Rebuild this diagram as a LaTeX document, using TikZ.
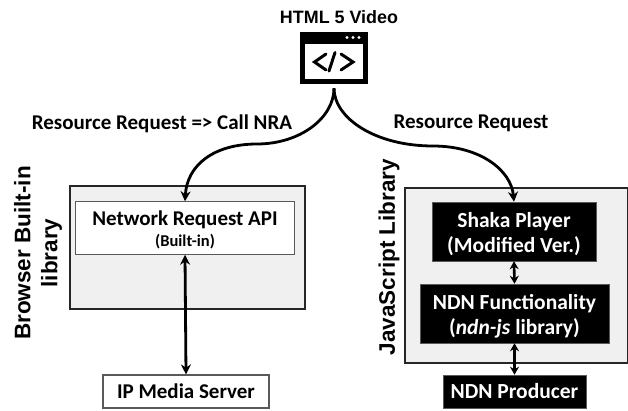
\documentclass[tikz,border=0pt]{standalone}
\usepackage{fontspec}
\setmainfont{Carlito}
\newfontfamily\arialf{Liberation Sans}
\usetikzlibrary{arrows.meta}
\newcommand{\tstrut}{\rule{0pt}{20.5pt}}
\tikzset{
  x=1pt,y=-1pt,
  outerbox/.style={draw=black!85,line width=2.4pt,fill=black!6,anchor=north west,inner sep=0pt},
  whitebox/.style={draw=black!65,line width=1pt,fill=white,inner sep=0pt},
  blackbox/.style={fill=black,draw=black!65,line width=.5pt,text=white,inner sep=0pt,align=center,font=\bfseries\fontsize{21.5}{25}\selectfont},
  lab/.style={font=\bfseries\fontsize{21}{24}\selectfont,inner sep=0pt},
  sidelab/.style={font=\arialf\bfseries\fontsize{22.5}{27}\selectfont,rotate=90,align=center,inner sep=0pt},
  conn/.style={line width=2.8pt,black,-{Stealth[length=10pt,width=10pt]},shorten <=4pt},
  biconn/.style={line width=2.8pt,black,{Stealth[length=10pt,width=10pt]}-{Stealth[length=10pt,width=10pt]}},
  shortbi/.style={line width=2.6pt,black,{Stealth[length=8pt,width=9pt]}-{Stealth[length=8pt,width=9pt]}},
}
\begin{document}
\begin{tikzpicture}
\useasboundingbox (0,0) rectangle (628,411);
% outer boxes
\node[outerbox,minimum width=235pt,minimum height=123pt] (leftbox) at (69,185) {};
\node[outerbox,minimum width=223pt,minimum height=175pt] (rightbox) at (403.5,187) {};
% inner nodes
\node[whitebox,minimum width=218.5pt,minimum height=52.5pt,align=center] (nra) at (185,228) {};
\node[font=\bfseries\fontsize{21}{24}\selectfont,inner sep=0pt] (nratext) at (185,219.5) {Network Request API};
\node[font=\bfseries\fontsize{16.5}{18}\selectfont,inner sep=0pt] (nrasub) at (185,241.5) {(Built-in)};
\node[whitebox,line width=1.2pt,minimum width=166pt,minimum height=33pt,font=\bfseries\fontsize{21}{24}\selectfont] (ip) at (186,391.5) {IP Media Server};
\node[blackbox,minimum width=164pt,minimum height=59pt] (shaka) at (514,231.5) {\tstrut Shaka Player\\(Modified Ver.)};
\node[blackbox,minimum width=189pt,minimum height=59pt] (func) at (514.5,313.5) {\tstrut NDN Functionality\\(\textit{ndn-js} library)};
\node[blackbox,minimum width=143pt,minimum height=33pt] (prod) at (514.5,391.5) {NDN Producer};
% icon
\node[fill=black,minimum width=68pt,minimum height=52pt,inner sep=0pt] (icon) at (334,58) {};
\node[fill=white,minimum width=58pt,minimum height=35pt,inner sep=0pt] (iconwin) at (334,61.5) {};
\foreach \dx in {347,353,359}{\fill[white] (\dx,37.5) circle (1.6pt);}
\draw[line width=3pt,line cap=round,line join=miter] (326,54) -- (314.5,62) -- (326,70);
\draw[line width=3pt,line cap=round,line join=miter] (341,54) -- (353,62) -- (341,70);
\draw[line width=3pt,line cap=round] (335,52.5) -- (329,71);
% labels
\node[font=\arialf\bfseries\fontsize{17.9}{20}\selectfont,inner sep=0pt] (title) at (339,17) {HTML 5 Video};
\node[lab] (l1) at (162,124) {Resource Request => Call NRA};
\node[lab] (l2) at (471,123) {Resource Request};
\node[sidelab] (s1) at (38,253) {Browser Built-in\\library};
\node[sidelab] (s2) at (389,257) {JavaScript Library};
% connectors
\coordinate (lmid) at (257,144);
\coordinate (rmid) at (433,146);
\draw[conn] (icon.south) .. controls (334,118) and (300,144) .. (lmid) .. controls (214,144) and (187,165) .. (nra.north);
\draw[conn] (icon.south) .. controls (334,118) and (375,146) .. (rmid) .. controls (480,146) and (511,170) .. (shaka.north);
\draw[biconn] (nra.south) -- (ip.north);
\draw[shortbi] (shaka.south) -- (func.north);
\draw[shortbi] (func.south) -- (prod.north);
\end{tikzpicture}
\end{document}
